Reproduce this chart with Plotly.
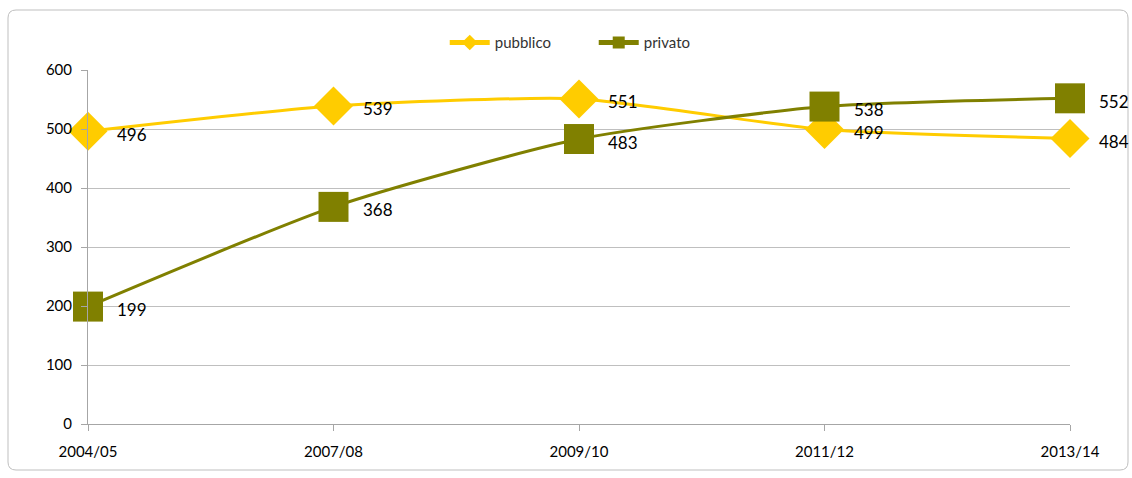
import plotly.graph_objects as go

categories = ["2004/05", "2007/08", "2009/10", "2011/12", "2013/14"]
pubblico = [496, 539, 551, 499, 484]
privato = [199, 368, 483, 538, 552]
y_ticks = [0, 100, 200, 300, 400, 500, 600]

FONT = "Lato, 'Open Sans', sans-serif"
YELLOW = "#FFCC00"
OLIVE = "#808000"

fig = go.Figure()
fig.add_trace(go.Scatter(
    x=categories, y=pubblico, name="pubblico", mode="lines+markers",
    line=dict(color=YELLOW, width=3, shape="spline", smoothing=0.6),
    marker=dict(symbol="diamond", size=30, color=YELLOW),
    cliponaxis=False,
))
fig.add_trace(go.Scatter(
    x=categories, y=privato, name="privato", mode="lines+markers",
    line=dict(color=OLIVE, width=3, shape="spline", smoothing=0.6),
    marker=dict(symbol="square", size=30, color=OLIVE),
    cliponaxis=False,
))

annotations = []
for series in (pubblico, privato):
    for c, v in zip(categories, series):
        annotations.append(dict(
            x=c, y=v, xref="x", yref="y", text=str(v), showarrow=False,
            xanchor="left", yanchor="middle", xshift=27, yshift=-3,
            font=dict(family=FONT, size=17, color="#000000"),
        ))

W, H = 1132, 478
L, R, T, B = 88, 62, 70, 54
pw, ph = W - L - R, H - T - B

def px2paper(px, py):
    return (px - L) / pw, (H - B - py) / ph

x0, y1 = px2paper(8, 10)
x1, y0 = px2paper(1128, 470)
rx = 8 / pw
ry = 8 / ph
path = (f"M {x0+rx},{y1} L {x1-rx},{y1} Q {x1},{y1} {x1},{y1-ry} "
        f"L {x1},{y0+ry} Q {x1},{y0} {x1-rx},{y0} L {x0+rx},{y0} "
        f"Q {x0},{y0} {x0},{y0+ry} L {x0},{y1-ry} Q {x0},{y1} {x0+rx},{y1} Z")

fig.update_layout(
    width=W, height=H,
    margin=dict(l=L, r=R, t=T, b=B),
    paper_bgcolor="white", plot_bgcolor="white",
    font=dict(family=FONT, size=14, color="#000000"),
    showlegend=True,
    legend=dict(orientation="h", x=0.515, xanchor="center", y=1.077, yanchor="middle",
                font=dict(size=15, color="#333333"), itemsizing="constant",
                itemwidth=40, entrywidth=94, entrywidthmode="pixels",
                bgcolor="rgba(0,0,0,0)"),
    xaxis=dict(type="category", range=[0, 4], showgrid=False,
               showline=True, linecolor="#A6A6A6", linewidth=1,
               ticks="outside", ticklen=6, tickcolor="#A6A6A6",
               ticklabelstandoff=8,
               tickfont=dict(size=15), fixedrange=True, zeroline=False),
    yaxis=dict(range=[0, 600], tickvals=y_ticks, showgrid=True,
               gridcolor="#BFBFBF", gridwidth=1,
               showline=True, linecolor="#A6A6A6", linewidth=1,
               ticks="outside", ticklen=6, tickcolor="#A6A6A6",
               ticklabelstandoff=6,
               tickfont=dict(size=15), zeroline=False),
    annotations=annotations,
    shapes=[dict(type="path", path=path, xref="paper", yref="paper",
                 line=dict(color="#BFBFBF", width=1), fillcolor="rgba(0,0,0,0)",
                 layer="below")],
)

fig.write_html("out.html", config={"displayModeBar": False},
               post_script="document.body.style.margin='0';document.body.style.overflow='hidden';")
